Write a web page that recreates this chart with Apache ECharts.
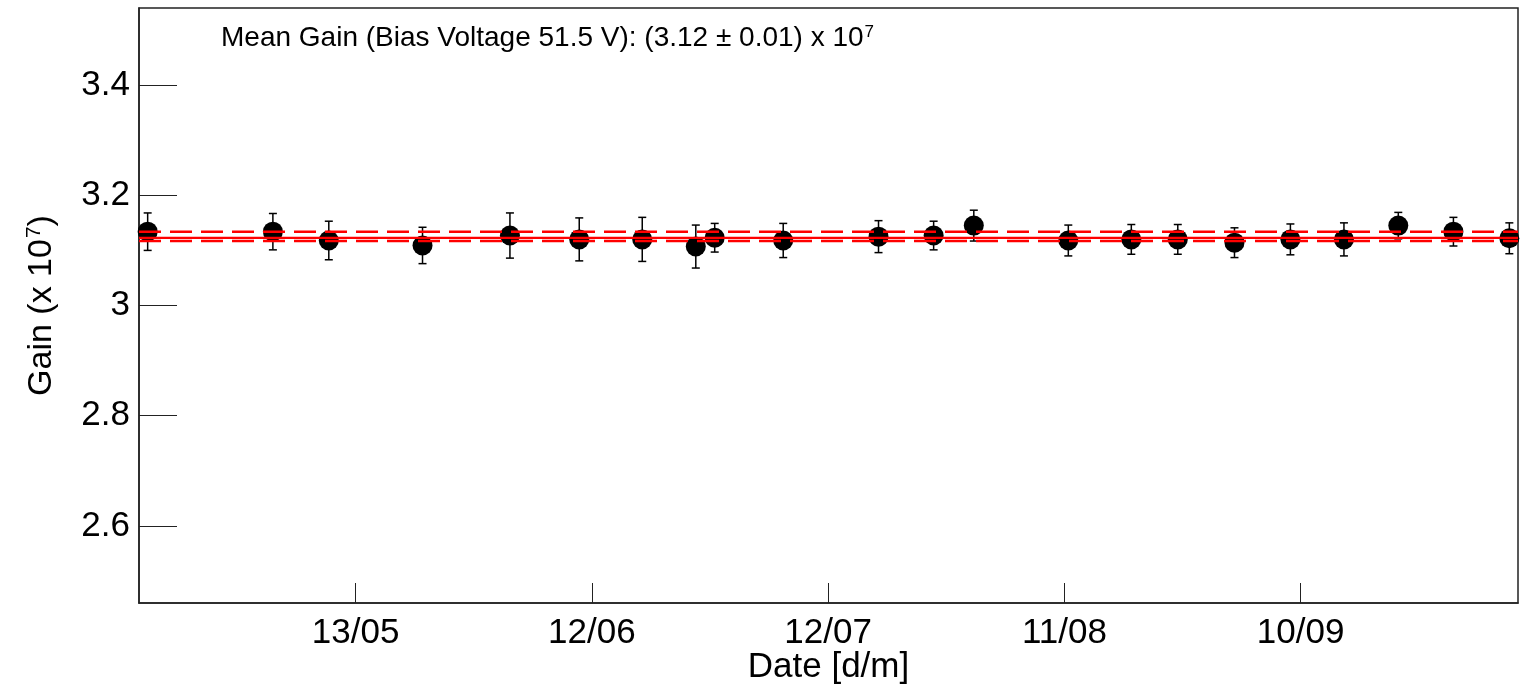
<!DOCTYPE html>
<html><head><meta charset="utf-8">
<script src="https://cdn.jsdelivr.net/npm/echarts@6/dist/echarts.min.js"></script>
<style>html,body{margin:0;padding:0;background:#fff}#c{width:1528px;height:687px}</style>
</head><body><div id="c"></div>
<script>
// Measurement dates as day-of-year (non-leap year), gain in units of 1e7
const dayOfYear = [106.6, 122.5, 129.6, 141.5, 152.6, 161.4, 169.4, 176.2, 178.6, 187.3, 199.4,
                   206.4, 211.5, 223.5, 231.5, 237.4, 244.6, 251.7, 258.5, 265.4, 272.4, 279.5];
const gain = [3.134, 3.134, 3.118, 3.109, 3.127, 3.120, 3.120, 3.107, 3.123, 3.118, 3.125,
              3.127, 3.145, 3.118, 3.120, 3.120, 3.114, 3.120, 3.120, 3.145, 3.134, 3.122];
const gainErr = [0.034, 0.033, 0.035, 0.033, 0.041, 0.039, 0.040, 0.039, 0.026, 0.031, 0.029,
                 0.026, 0.028, 0.028, 0.027, 0.027, 0.027, 0.028, 0.030, 0.024, 0.026, 0.028];
const meanGain = 3.1226;
const meanBandLow = 3.1170;
const meanBandHigh = 3.1340;
const xTickDays = [133, 163, 193, 223, 253];
const yTicks = [2.6, 2.8, 3.0, 3.2, 3.4];
const titleText = 'Mean Gain (Bias Voltage 51.5 V): (3.12 \u00b1 0.01) x 10';

const X_MIN = 105.5, X_MAX = 280.6;
const FONT = '"Liberation Sans", Arial, Helvetica, sans-serif';

function fmtDay(d) {
  const dt = new Date(Date.UTC(2019, 0, Math.round(d)));
  const p = n => (n < 10 ? '0' : '') + n;
  return p(dt.getUTCDate()) + '/' + p(dt.getUTCMonth() + 1);
}

const points = dayOfYear.map((d, i) => [d, gain[i]]);
const errs = dayOfYear.map((d, i) => [d, gain[i] - gainErr[i], gain[i] + gainErr[i]]);

const chart = echarts.init(document.getElementById('c'), null, {renderer: 'canvas'});
chart.setOption({
  animation: false,
  backgroundColor: '#fff',
  title: {
    text: titleText + '{sup|7}',
    left: 216, top: 19,
    textStyle: {
      fontFamily: FONT, fontSize: 28, fontWeight: 'normal', color: '#000',
      rich: { sup: { fontFamily: FONT, fontSize: 17, verticalAlign: 'top', color: '#000', padding: [0, 0, 12, 1] } }
    }
  },
  grid: {
    left: 139, right: 10, top: 8, bottom: 84,
    outerBoundsMode: 'none', containLabel: false,
    show: true, borderColor: '#222', borderWidth: 1.5, backgroundColor: 'transparent'
  },
  xAxis: {
    type: 'value', min: X_MIN, max: X_MAX,
    name: 'Date [d/m]', nameLocation: 'middle', nameGap: 47, nameMoveOverlap: false,
    nameTextStyle: { fontFamily: FONT, fontSize: 35, color: '#000' },
    axisLine: { show: true, onZero: false, lineStyle: { color: '#222', width: 1.5 } },
    axisTick: { show: true, inside: true, length: 20, customValues: xTickDays, lineStyle: { color: '#222', width: 1 } },
    axisLabel: { customValues: xTickDays, formatter: v => fmtDay(v), fontFamily: FONT, fontSize: 35, color: '#000', margin: 13 },
    minorTick: { show: false },
    splitLine: { show: false }
  },
  yAxis: {
    type: 'value', min: 2.46, max: 3.54,
    name: 'Gain (x 10{sup|7})', nameLocation: 'middle', nameGap: 80, nameRotate: 90, nameMoveOverlap: false,
    nameTextStyle: {
      fontFamily: FONT, fontSize: 34, color: '#000',
      rich: { sup: { fontFamily: FONT, fontSize: 21, verticalAlign: 'top', padding: [0, 0, 14, 1], color: '#000' } }
    },
    axisLine: { show: true, onZero: false, lineStyle: { color: '#222', width: 1.5 } },
    axisTick: { show: true, inside: true, length: 38, customValues: yTicks, lineStyle: { color: '#222', width: 1 } },
    axisLabel: {
      customValues: yTicks,
      formatter: v => (Math.abs(v - Math.round(v)) < 1e-9 ? String(Math.round(v)) : v.toFixed(1)),
      fontFamily: FONT, fontSize: 35, color: '#000', margin: 9
    },
    splitLine: { show: false }
  },
  series: [
    {
      type: 'custom', z: 2,
      renderItem: (params, api) => {
        const top = api.coord([api.value(0), api.value(2)]);
        const bot = api.coord([api.value(0), api.value(1)]);
        const x = top[0], cw = 4;
        const st = { stroke: '#000', lineWidth: 1.5 };
        return { type: 'group', children: [
          { type: 'line', shape: { x1: x, y1: top[1], x2: x, y2: bot[1] }, style: st },
          { type: 'line', shape: { x1: x - cw, y1: top[1], x2: x + cw, y2: top[1] }, style: st },
          { type: 'line', shape: { x1: x - cw, y1: bot[1], x2: x + cw, y2: bot[1] }, style: st }
        ]};
      },
      encode: { x: 0, y: [1, 2] },
      data: errs
    },
    {
      type: 'scatter', z: 3, symbol: 'circle', symbolSize: 20,
      itemStyle: { color: '#000', opacity: 1 },
      data: points
    },
    {
      type: 'line', z: 5, showSymbol: false, silent: true,
      lineStyle: { color: '#ff0000', width: 2.2 },
      data: [[X_MIN, meanGain], [X_MAX, meanGain]]
    },
    {
      type: 'line', z: 5, showSymbol: false, silent: true,
      lineStyle: { color: '#ff0000', width: 2.6, type: [22, 9] },
      data: [[X_MIN, meanBandHigh], [X_MAX, meanBandHigh]]
    },
    {
      type: 'line', z: 5, showSymbol: false, silent: true,
      lineStyle: { color: '#ff0000', width: 2.6, type: [22, 9] },
      data: [[X_MIN, meanBandLow], [X_MAX, meanBandLow]]
    }
  ]
});
</script>
</body></html>
